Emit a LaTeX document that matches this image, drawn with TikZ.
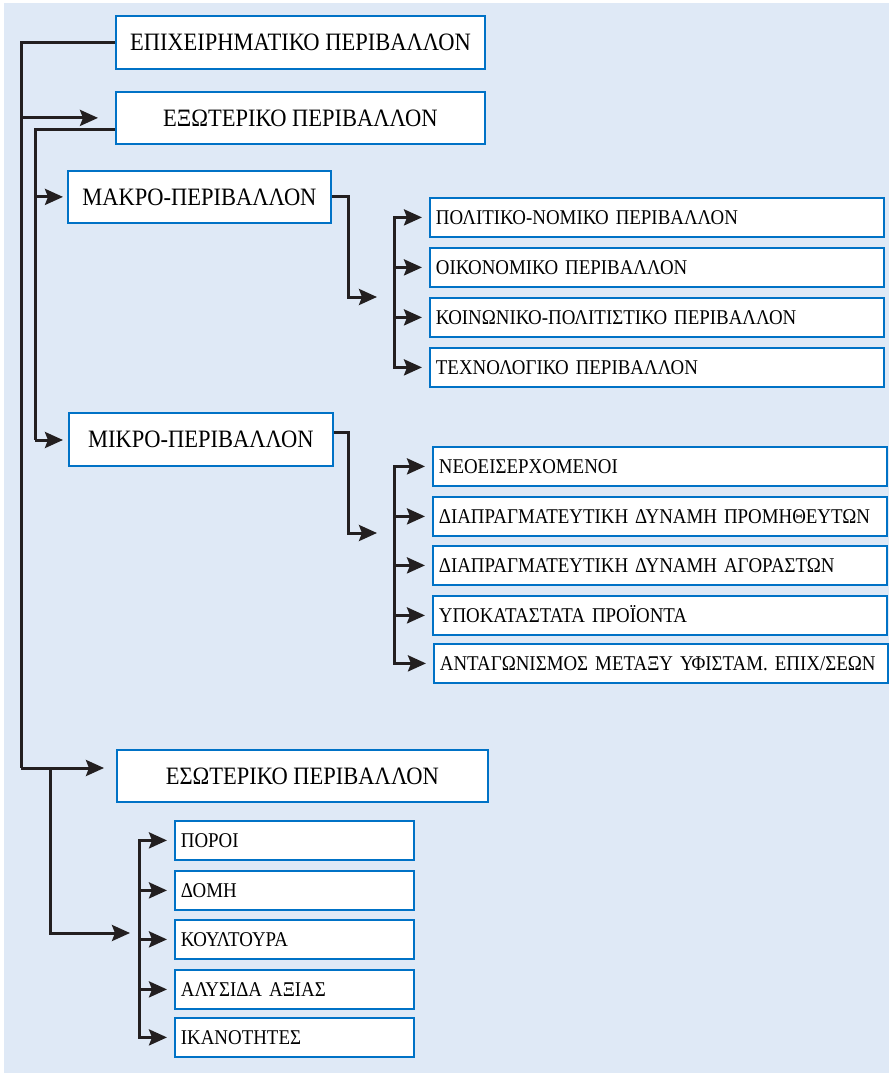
\documentclass[tikz,border=0pt]{standalone}
\usepackage{fontspec}
\setmainfont{Liberation Serif}[FakeStretch=0.9]
\usepackage{tikz}
\usetikzlibrary{arrows.meta}
\definecolor{bgblue}{RGB}{223,233,246}
\definecolor{boxblue}{RGB}{0,114,198}
\definecolor{linedark}{RGB}{35,31,32}
\tikzset{
  headbox/.style={draw=boxblue,line width=1.8pt,fill=white,anchor=north west,inner sep=0pt,
    font=\fontsize{25}{30}\selectfont,text height=16.5pt,text depth=0pt},
  itembox/.style={draw=boxblue,line width=1.8pt,fill=white,anchor=north west,inner xsep=6pt,inner ysep=0pt,
    minimum height=39pt,align=left,font=\fontsize{21}{25}\selectfont,text height=13.9pt,text depth=0pt},
  link/.style={draw=linedark,line width=3pt},
  linkarrow/.style={link,-{Stealth[length=18pt,width=16pt,inset=3pt]}},
}
\begin{document}
\begin{tikzpicture}[x=1pt,y=-1pt]
\useasboundingbox (0,0) rectangle (889,1075);
\fill[bgblue] (4,3) rectangle (889,1073);

% main boxes
\node[headbox,minimum width=369pt,minimum height=53pt] (epix) at (115,15) {ΕΠΙΧΕΙΡΗΜΑΤΙΚΟ ΠΕΡΙΒΑΛΛΟΝ};
\node[headbox,minimum width=369pt,minimum height=52pt] (exot) at (115,91) {ΕΞΩΤΕΡΙΚΟ ΠΕΡΙΒΑΛΛΟΝ};
\node[headbox,minimum width=263pt,minimum height=52pt] (makro) at (67,170) {ΜΑΚΡΟ-ΠΕΡΙΒΑΛΛΟΝ};
\node[headbox,minimum width=264pt,minimum height=53pt] (mikro) at (68,412) {ΜΙΚΡΟ-ΠΕΡΙΒΑΛΛΟΝ};
\node[headbox,minimum width=371pt,minimum height=52pt] (esot) at (116,749) {ΕΣΩΤΕΡΙΚΟ ΠΕΡΙΒΑΛΛΟΝ};

% macro items
\node[itembox,text width=442pt] (pol) at (429,197) {ΠΟΛΙΤΙΚΟ-ΝΟΜΙΚΟ ΠΕΡΙΒΑΛΛΟΝ};
\node[itembox,text width=442pt] (oik) at (429,247) {ΟΙΚΟΝΟΜΙΚΟ ΠΕΡΙΒΑΛΛΟΝ};
\node[itembox,text width=442pt] (koin) at (429,297) {ΚΟΙΝΩΝΙΚΟ-ΠΟΛΙΤΙΣΤΙΚΟ ΠΕΡΙΒΑΛΛΟΝ};
\node[itembox,text width=442pt] (tech) at (429,347) {ΤΕΧΝΟΛΟΓΙΚΟ ΠΕΡΙΒΑΛΛΟΝ};

% micro items
\node[itembox,text width=442pt] (neo) at (432,446) {ΝΕΟΕΙΣΕΡΧΟΜΕΝΟΙ};
\node[itembox,text width=442pt] (prom) at (432,496) {ΔΙΑΠΡΑΓΜΑΤΕΥΤΙΚΗ ΔΥΝΑΜΗ ΠΡΟΜΗΘΕΥΤΩΝ};
\node[itembox,text width=442pt] (agor) at (432,545) {ΔΙΑΠΡΑΓΜΑΤΕΥΤΙΚΗ ΔΥΝΑΜΗ ΑΓΟΡΑΣΤΩΝ};
\node[itembox,text width=442pt] (ypok) at (432,595) {ΥΠΟΚΑΤΑΣΤΑΤΑ ΠΡΟΪΟΝΤΑ};
\node[itembox,text width=442pt] (antag) at (433,643) {ΑΝΤΑΓΩΝΙΣΜΟΣ ΜΕΤΑΞΥ ΥΦΙΣΤΑΜ. ΕΠΙΧ/ΣΕΩΝ};

% internal items
\node[itembox,text width=227pt] (poroi) at (174,820) {ΠΟΡΟΙ};
\node[itembox,text width=227pt] (domi) at (174,870) {ΔΟΜΗ};
\node[itembox,text width=227pt] (koult) at (174,919) {ΚΟΥΛΤΟΥΡΑ};
\node[itembox,text width=227pt] (alys) at (174,969) {ΑΛΥΣΙΔΑ ΑΞΙΑΣ};
\node[itembox,text width=227pt] (ikan) at (174,1017) {ΙΚΑΝΟΤΗΤΕΣ};

% trunk
\coordinate (trunkend) at (21,768);
\draw[link] (epix.west) -| (trunkend);
\draw[linkarrow,shorten >=17pt] (exot.west -| trunkend) -- (exot.west);
\draw[linkarrow,shorten >=12pt] (trunkend) -- (trunkend -| esot.west);

% external
\coordinate (extend) at (35,440);
\draw[link] ([yshift=-12pt]exot.west) -| (extend);
\draw[linkarrow,shorten >=4pt] (makro.west -| extend) -- (makro.west);
\draw[linkarrow,shorten >=5pt] (extend) -- (extend -| mikro.west);

% macro
\coordinate (makrohub) at (377,297);
\coordinate (makrobus) at (394,0);
\draw[linkarrow] (makro.east) -- ++(17,0) |- (makrohub);
\draw[link,line cap=rect] (pol.west -| makrobus) -- (tech.west -| makrobus);
\foreach \n in {pol,oik,koin,tech}
  \draw[linkarrow,shorten >=7pt] (\n.west -| makrobus) -- (\n.west);

% micro
\coordinate (mikrohub) at (377,533);
\coordinate (mikrobus) at (394,0);
\draw[linkarrow] ([yshift=7pt]mikro.east) -- ++(15,0) |- (mikrohub);
\draw[link,line cap=rect] (neo.west -| mikrobus) -- (antag.west -| mikrobus);
\foreach \n in {neo,prom,agor,ypok,antag}
  \draw[linkarrow,shorten >=7pt] (\n.west -| mikrobus) -- (\n.west);

% internal
\coordinate (esotsplit) at (50,768);
\coordinate (esothub) at (130,933);
\coordinate (esotbus) at (139,0);
\draw[linkarrow] (esotsplit) |- (esothub);
\draw[link,line cap=rect] (poroi.west -| esotbus) -- (ikan.west -| esotbus);
\foreach \n in {poroi,domi,koult,alys,ikan}
  \draw[linkarrow,shorten >=7pt] (\n.west -| esotbus) -- (\n.west);
\end{tikzpicture}
\end{document}
